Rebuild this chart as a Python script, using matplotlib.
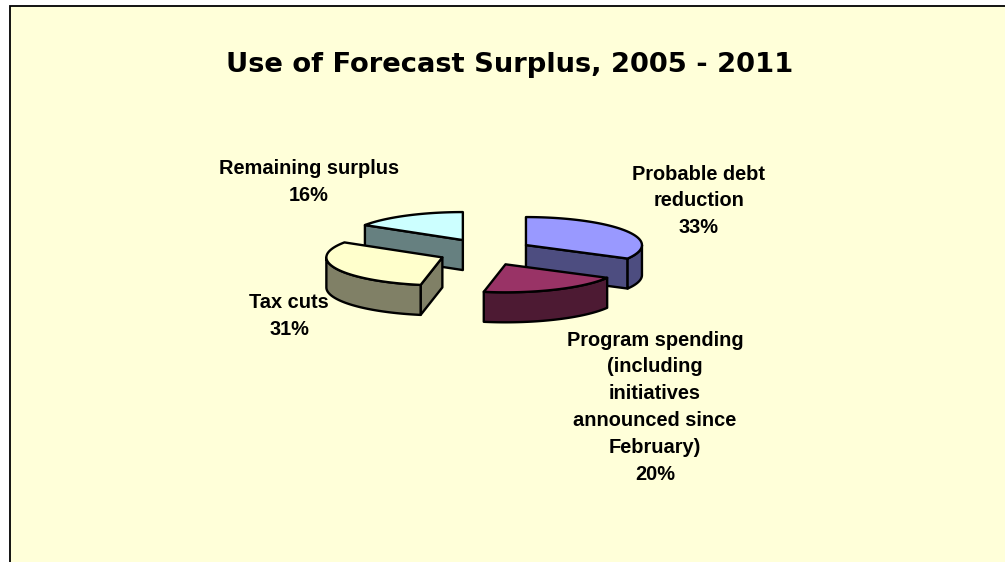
import numpy as np
import matplotlib
matplotlib.use('Agg')
import matplotlib.pyplot as plt
from matplotlib.patches import Polygon, Rectangle

title = 'Use of Forecast Surplus, 2005 - 2011'
names = ['Probable debt\nreduction',
         'Program spending\n(including\ninitiatives\nannounced since\nFebruary)',
         'Tax cuts',
         'Remaining surplus']
shares = [33, 20, 31, 16]
top_colors = ['#9999FF', '#993366', '#FFFFCC', '#CCFFFF']
side_colors = ['#4D4D80', '#4D1A33', '#808066', '#668080']
label_pos = [(699, 201), (655, 407), (289, 316), (309, 182)]
draw_order = [3, 0, 2, 1]

CX, CY = 485.5, 252
RX, RY = 116, 28
EXPLODE = 47
DEPTH = 30


def rim(center, start, stop):
    '''
    Returns the points of the pie rim between two angles, which are in
    degrees clockwise from twelve o'clock.
    '''
    t = np.radians(np.linspace(start, stop, max(2, int(abs(stop - start)) + 2)))
    return np.column_stack([center[0] + RX * np.sin(t),
                            center[1] - RY * np.cos(t)])


def extrude(points):
    '''
    Returns a closed side wall hanging below the given points.
    '''
    lower = points[::-1] + [0, DEPTH]
    return np.vstack([points, lower])


def draw_slice(ax, start, stop, top_color, side_color):
    '''
    Draws one exploded slice: the visible walls first and the top last.
    '''
    mid = np.radians((start + stop) / 2)
    center = np.array([CX + EXPLODE * np.sin(mid),
                       CY - EXPLODE * np.cos(mid) * RY / RX * 1.2])
    walls = []
    # radial walls only show when they face downwards
    if np.sin(np.radians(start)) < -1e-6:
        walls.append(np.vstack([center, rim(center, start, start)[:1]]))
    if np.sin(np.radians(stop)) > 1e-6:
        walls.append(np.vstack([center, rim(center, stop, stop)[:1]]))
    low, high = max(start, 90), min(stop, 270)
    if low < high:
        walls.append(rim(center, low, high))
    for wall in walls:
        ax.add_patch(Polygon(extrude(wall), closed=True, facecolor=side_color,
                             edgecolor='black', linewidth=1.7,
                             joinstyle='round'))
    outline = np.vstack([center, rim(center, start, stop)])
    ax.add_patch(Polygon(outline, closed=True, facecolor=top_color,
                         edgecolor='black', linewidth=1.7, joinstyle='round'))


def main():
    fig = plt.figure(figsize=(10.05, 5.62), dpi=100)
    ax = fig.add_axes([0, 0, 1, 1])
    ax.set_xlim(0, 1005)
    ax.set_ylim(562, 0)
    ax.set_axis_off()

    # chart area runs off the right and bottom edges
    ax.add_patch(Rectangle((10, 6), 1100, 600, facecolor='#FFFFD9',
                           edgecolor='black', linewidth=1.3))

    edges = np.concatenate([[0], np.cumsum(shares)]) * 360 / sum(shares)
    for i in draw_order:
        draw_slice(ax, edges[i], edges[i + 1], top_colors[i], side_colors[i])

    ax.text(510, 64.5, title, ha='center', va='center', fontsize=19.7,
            fontweight='bold', family='DejaVu Sans')
    for name, share, pos in zip(names, shares, label_pos):
        ax.text(pos[0], pos[1], f'{name}\n{share}%', ha='center', va='center',
                fontsize=14.4, fontweight='bold', family='Liberation Sans',
                linespacing=1.52)

    fig.savefig('out.png', dpi=100)


if __name__ == '__main__':
    main()
